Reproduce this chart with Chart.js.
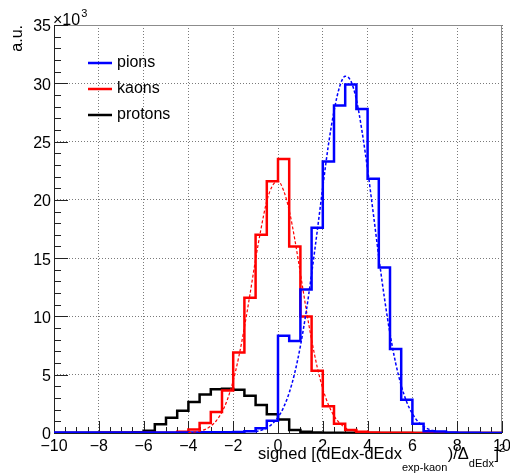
<!DOCTYPE html>
<html>
<head>
<meta charset="utf-8">
<script src="https://cdn.jsdelivr.net/npm/chart.js@4.4.1/dist/chart.umd.min.js"></script>
<style>
  html, body { margin: 0; padding: 0; background: #fff; }
  canvas { display: block; }
</style>
</head>
<body>
<canvas id="chart" width="510" height="474"></canvas>
<script>
// 40 bins of width 0.5 between -10 and 10 (lower edges + the last upper edge)
const binEdges = Array.from({ length: 41 }, (_, i) => -10 + 0.5 * i);

// bin contents (counts)
const pions = [
  40, 40, 40, 40, 40, 40, 40, 40,
  40, 40, 40, 50, 50, 60, 60, 70,
  80, 150, 400, 1050,
  8350, 7900, 12300, 17600, 23300, 28100, 29900, 27800,
  21800, 14200, 7200, 2850, 800, 150, 120, 40,
  30, 20, 10, 10
];
const kaons = [
  0, 0, 0, 0, 20, 20, 20, 20,
  30, 30, 30, 100, 300, 850, 1800, 3650,
  6900, 11600, 17000, 21600,
  23500, 16000, 10000, 5350, 2300, 800, 250, 100,
  50, 30, 20, 20, 10, 10, 0, 0,
  0, 0, 0, 0
];
const protons = [
  10, 10, 10, 10, 20, 20, 30, 60,
  200, 750, 1300, 1900, 2650, 3300, 3750, 3800,
  3700, 3200, 2400, 1600,
  1150, 250, 100, 50, 30, 20, 20, 10,
  10, 10, 10, 10, 10, 10, 10, 10,
  10, 10, 10, 10
];

// dashed fit curves
const kaonFitX = [-4, -3.75, -3.5, -3.25, -3, -2.75, -2.5, -2.25, -2, -1.75, -1.5, -1.25, -1, -0.75, -0.5, -0.25,
  0, 0.25, 0.5, 0.75, 1, 1.25, 1.5, 1.75, 2, 2.25, 2.5, 2.75, 3, 3.25, 3.5, 3.75, 4];
const kaonFitY = [30, 80, 160, 310, 590, 1060, 1810, 2920, 4490, 6540, 9060, 11900, 14900, 17600, 19900, 21200,
  21600, 20800, 19100, 16600, 13700, 10700, 8000, 5660, 3800, 2430, 1470, 850, 460, 240, 120, 55, 25];
const pionFitX = [-1, -0.75, -0.5, -0.25, 0, 0.25, 0.5, 0.75, 1, 1.25, 1.5, 1.75, 2, 2.25, 2.5, 2.75,
  3, 3.25, 3.5, 3.75, 4, 4.25, 4.5, 4.75, 5, 5.25, 5.5, 5.75, 6, 6.25, 6.5, 6.75, 7];
const pionFitY = [120, 240, 440, 790, 1340, 2200, 3450, 5180, 7460, 10300, 13650, 17300, 21100, 24700, 27600, 29700,
  30600, 30200, 28600, 25900, 22600, 18900, 15100, 11600, 8530, 6020, 4080, 2640, 1650, 980, 560, 310, 160];

const FONT = '"Liberation Sans", Arial, Helvetica, sans-serif';
Chart.defaults.font.family = FONT;
Chart.defaults.color = '#000';

const histPoints = (vals) => binEdges.map((e, i) => ({ x: e, y: vals[Math.min(i, vals.length - 1)] }));
const fitPoints = (xs, ys) => xs.map((x, i) => ({ x: x, y: ys[i] }));

const fmtX = (v) => (v < 0 ? '\u2212' + Math.abs(v) : String(v));

// ROOT-like frame, inner tick marks, legend and axis titles
const rootDecor = {
  id: 'rootDecor',
  beforeDatasetsDraw(chart) {
    const { ctx, chartArea: a, scales: { x, y } } = chart;
    ctx.save();
    ctx.lineWidth = 1;
    ctx.strokeStyle = '#8c8c8c';
    ctx.beginPath();
    ctx.moveTo(a.left, a.top + 0.5);
    ctx.lineTo(a.right - 0.5, a.top + 0.5);
    ctx.lineTo(a.right - 0.5, a.bottom);
    ctx.stroke();

    ctx.strokeStyle = '#222';
    ctx.beginPath();
    ctx.moveTo(a.left + 0.5, a.top);
    ctx.lineTo(a.left + 0.5, a.bottom + 0.5);
    ctx.lineTo(a.right, a.bottom + 0.5);
    // y ticks every 1000, long ones every 5000
    for (let v = 0; v <= y.max; v += 1000) {
      const py = Math.round(y.getPixelForValue(v)) + 0.5;
      const len = v % 5000 === 0 ? 14 : 7;
      ctx.moveTo(a.left, py);
      ctx.lineTo(a.left + len, py);
    }
    // x ticks every 0.5, long ones every 2
    for (let v = x.min; v <= x.max + 1e-9; v += 0.5) {
      const px = Math.round(x.getPixelForValue(v)) + 0.5;
      const len = Math.abs(v % 2) < 1e-9 ? 12 : 6;
      ctx.moveTo(px, a.bottom);
      ctx.lineTo(px, a.bottom - len);
    }
    ctx.stroke();
    ctx.restore();
  },
  afterDraw(chart) {
    const { ctx } = chart;
    ctx.save();
    ctx.fillStyle = '#000';

    // x10^3 exponent
    ctx.textBaseline = 'alphabetic';
    ctx.textAlign = 'left';
    ctx.font = '16px ' + FONT;
    ctx.fillText('\u00d710', 53, 24.5);
    const w = ctx.measureText('\u00d710').width;
    ctx.font = '11px ' + FONT;
    ctx.fillText('3', 53 + w + 1, 17);

    // y title
    ctx.save();
    ctx.translate(21.5, 25);
    ctx.rotate(-Math.PI / 2);
    ctx.textAlign = 'right';
    ctx.font = '16px ' + FONT;
    ctx.fillText('a.u.', 0, 0);
    ctx.restore();

    // x title with sub/superscripts
    const parts = [
      { t: 'signed [(dEdx-dEdx', size: 16.5, dy: 0 },
      { t: 'exp-kaon', size: 11, dy: 12 },
      { t: ')/\u0394', size: 16.5, dy: 0 },
      { t: 'dEdx', size: 11, dy: 8 },
      { t: ']', size: 16.5, dy: 0 },
      { t: '2', size: 11, dy: -7 }
    ];
    let tx = 258;
    const base = 459;
    parts.forEach((p) => {
      ctx.font = p.size + 'px ' + FONT;
      ctx.fillText(p.t, tx, base + p.dy);
      tx += ctx.measureText(p.t).width + (p.size < 16 ? 0.5 : 0);
    });

    // legend
    const entries = chart.data.datasets.filter((d) => !d.isFit);
    ctx.font = '16px ' + FONT;
    ctx.textBaseline = 'middle';
    entries.forEach((d, i) => {
      const ly = 63 + i * 26;
      ctx.strokeStyle = d.borderColor;
      ctx.lineWidth = 2.5;
      ctx.beginPath();
      ctx.moveTo(88, ly);
      ctx.lineTo(112, ly);
      ctx.stroke();
      ctx.fillText(d.label, 117, ly);
    });
    ctx.restore();
  }
};

new Chart(document.getElementById('chart'), {
  type: 'line',
  data: {
    datasets: [
      { label: 'pions', data: histPoints(pions), borderColor: '#0000ff', borderWidth: 2.5, stepped: 'before', order: 1 },
      { label: 'kaons', data: histPoints(kaons), borderColor: '#ff0000', borderWidth: 2.5, stepped: 'before', order: 2 },
      { label: 'protons', data: histPoints(protons), borderColor: '#000000', borderWidth: 2.5, stepped: 'before', order: 3 },
      { label: 'pion fit', isFit: true, data: fitPoints(pionFitX, pionFitY), borderColor: '#0000ff', borderWidth: 1.5,
        borderDash: [3, 2], cubicInterpolationMode: 'monotone', order: 0 },
      { label: 'kaon fit', isFit: true, data: fitPoints(kaonFitX, kaonFitY), borderColor: '#ff0000', borderWidth: 1.2,
        borderDash: [3, 2], cubicInterpolationMode: 'monotone', order: 0 }
    ]
  },
  options: {
    responsive: false,
    animation: false,
    devicePixelRatio: 1,
    layout: { padding: { top: 25, right: 8, left: 0, bottom: 0 } },
    elements: { point: { radius: 0 }, line: { fill: false } },
    plugins: { legend: { display: false }, tooltip: { enabled: false } },
    scales: {
      x: {
        type: 'linear',
        min: -10,
        max: 10,
        ticks: { stepSize: 2, padding: 4, font: { size: 16 }, maxRotation: 0, autoSkip: false, callback: fmtX },
        grid: { color: '#7a7a7a', lineWidth: 1, drawTicks: false },
        border: { display: false, dash: [1, 2] },
        afterFit: (s) => { s.height = 474 - 433; s.paddingLeft = 0; s.paddingRight = 0; }
      },
      y: {
        type: 'linear',
        min: 0,
        max: 35000,
        ticks: { stepSize: 5000, padding: 3, labelOffset: 2, font: { size: 16 }, callback: (v) => v / 1000 },
        grid: { color: '#7a7a7a', lineWidth: 1, drawTicks: false },
        border: { display: false, dash: [1, 2] },
        afterFit: (s) => { s.width = 54; s.paddingTop = 0; s.paddingBottom = 0; }
      }
    }
  },
  plugins: [rootDecor]
});
</script>
</body>
</html>
